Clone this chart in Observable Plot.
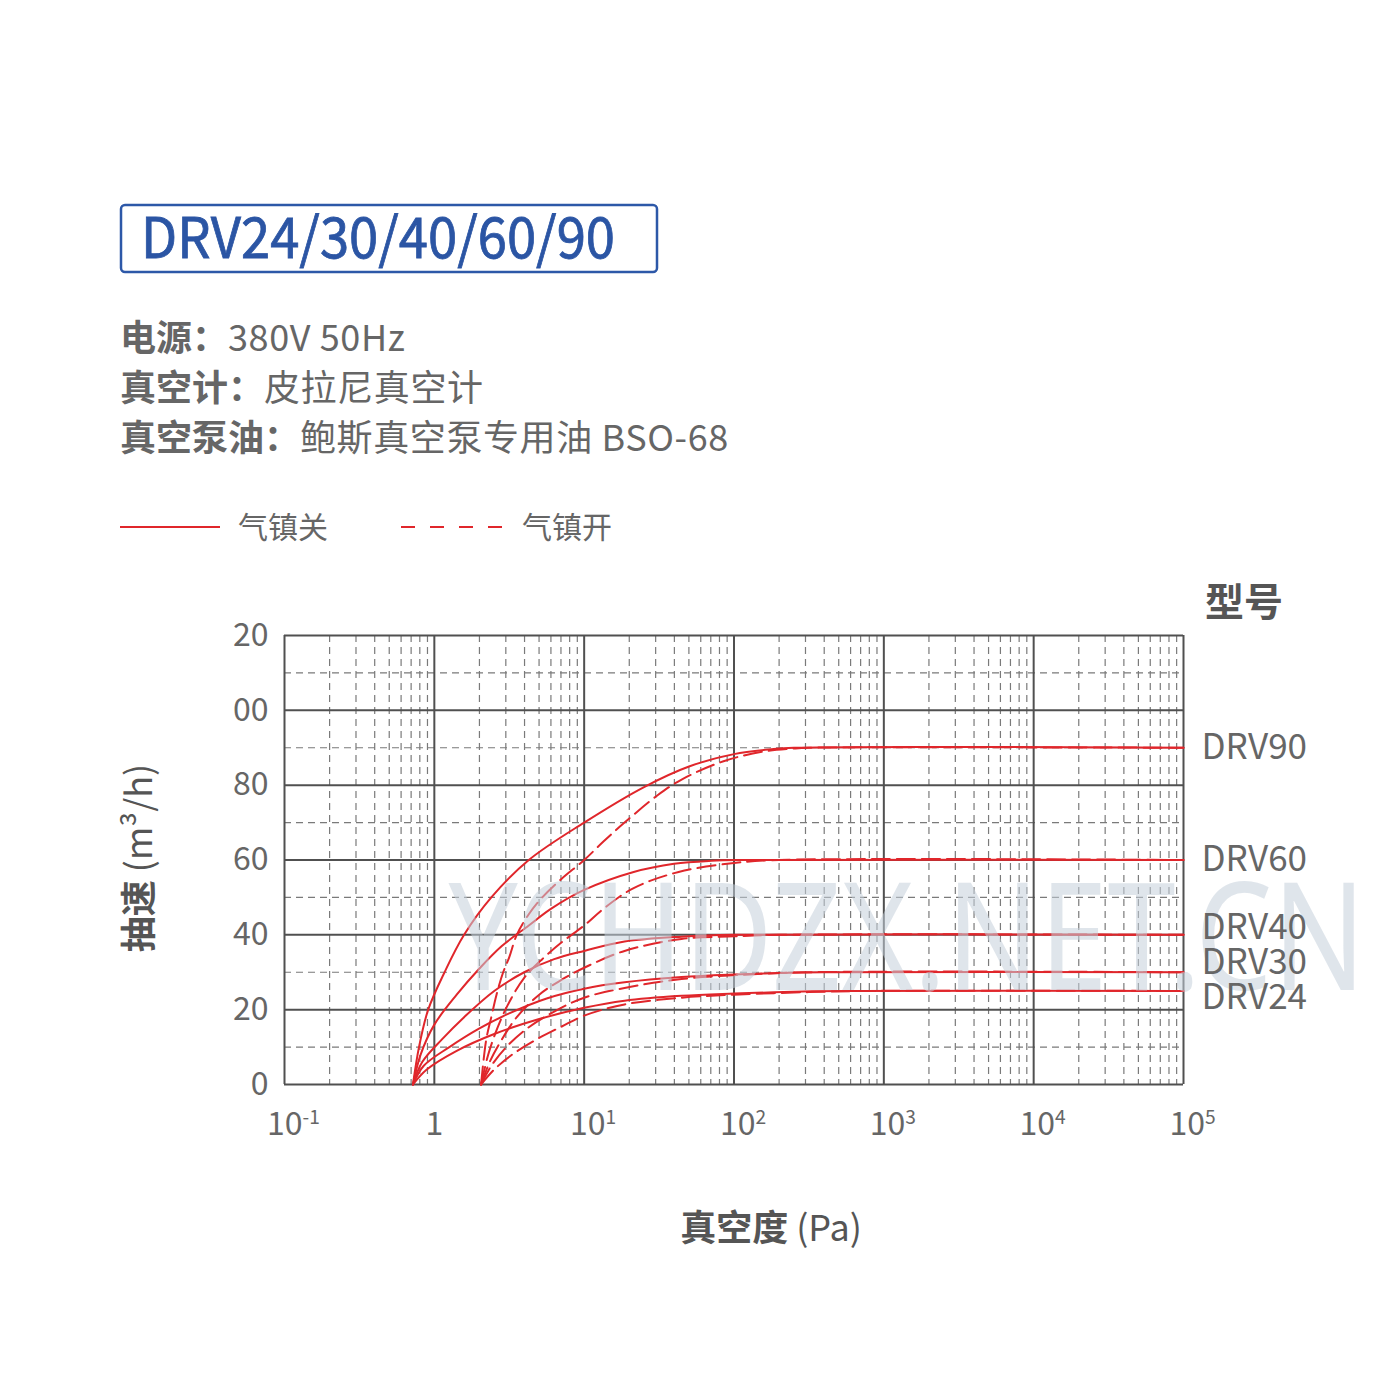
<!DOCTYPE html>
<html><head><meta charset="utf-8">
<script src="https://cdn.jsdelivr.net/npm/d3@7"></script>
<script src="https://cdn.jsdelivr.net/npm/@observablehq/plot@0.6"></script>
<style>
body{margin:0;background:#fff;}
#wrap{position:relative;width:1400px;height:1400px;overflow:hidden;background:#fff;}
#chart{position:absolute;left:0;top:560px;}
#overlay{position:absolute;left:0;top:0;}
</style></head>
<body><div id="wrap"><svg id="overlay" width="1400" height="1400"></svg><div id="chart"></div></div>
<script>
// ---- data (pressure Pa, pumping speed m3/h) ----
const models = ["DRV90", "DRV60", "DRV40", "DRV30", "DRV24"];
// gas ballast closed (solid)
const off90 = [[0.72,0],[0.79,10],[0.91,20],[1.17,30],[1.58,40],[2.4,50],[4.27,60],[10,70],[25.1,79.5],[50.1,85],[100,88.3],[178,89.6],[251,90],[100000,90]];
const off60 = [[0.72,0],[0.81,8],[1,16],[1.41,24],[2,31],[2.82,37],[4.27,42.5],[6.03,47],[10,52],[21.4,56.8],[39.8,59],[70.8,59.8],[112,60],[100000,60]];
const off40 = [[0.72,0],[0.83,6],[1.12,12],[1.58,18],[2.51,25],[3.98,30],[6.31,33.5],[10,35.7],[18.6,38.2],[44.7,39.5],[100,40],[100000,40]];
const off30 = [[0.72,0],[0.85,5],[1.26,10],[2,15],[3.16,19],[5.62,23],[10,25.6],[18.6,27.3],[44.7,28.7],[100,29.4],[200,29.8],[398,30],[100000,30]];
const off24 = [[0.72,0],[0.89,4],[1.41,9],[2.51,13.5],[5.01,17.5],[10,20.5],[18.6,22.4],[44.7,23.7],[100,24.3],[251,24.8],[631,25],[100000,25]];
// gas ballast open (dashed)
const on90 = [[2.05,0],[2.22,12],[2.4,18],[2.6,24],[2.88,30],[3.16,34],[3.55,40],[4.27,45.5],[5.25,50],[7.08,55],[10,60],[13.5,65],[18.6,70],[30.9,77.3],[44.7,81.5],[85.1,86.4],[158,89],[251,89.8],[316,90],[100000,90]];
const on60 = [[2.05,0],[2.29,8],[2.63,15],[3.16,22],[3.98,28.5],[5.25,33.5],[7.08,38],[10,42.5],[13.5,47],[21.4,52.5],[42.7,56.8],[100,59.2],[200,60],[100000,60]];
const on40 = [[2.05,0],[2.34,6],[2.82,12],[3.55,18],[5.01,24],[7.08,28],[10,31.2],[18.6,35.7],[44.7,38.9],[100,39.6],[200,40],[100000,40]];
const on30 = [[2.05,0],[2.4,5],[3.02,10],[4.17,15],[6.31,19.5],[10,23.2],[18.6,25.8],[44.7,28.2],[100,29.2],[316,30],[100000,30]];
const on24 = [[2.05,0],[2.51,4],[3.31,8],[4.79,12],[7.08,15.5],[10,18.4],[18.6,21.4],[44.7,23.2],[100,24],[316,24.7],[794,25],[100000,25]];

const xTicks = [0.1, 1, 10, 100, 1000, 10000, 100000];
const xTickLabels = ["10^-1", "1", "10^1", "10^2", "10^3", "10^4", "10^5"];
const yTicks = [0, 20, 40, 60, 80, 100, 120];
const yTickLabels = ["0", "20", "40", "60", "80", "00", "20"];
const modelLabelY = [90, 60, 42, 32.6, 23.3];

const title = "DRV24/30/40/60/90";
const specLabels = ["电源：", "真空计：", "真空泵油："];
const specValues = ["380V 50Hz", "皮拉尼真空计", "鲍斯真空泵专用油 BSO-68"];
const legendLabels = ["气镇关", "气镇开"];
const xTitle = ["真空度", " (Pa)"];
const yTitle = ["抽速", " (m³/h)"];
const modelHeader = "型号";
const watermark = "YCHDZX.NET.CN";

// ---- build rows ----
const offSeries = [off90, off60, off40, off30, off24];
const onSeries = [on90, on60, on40, on30, on24];
const rowsOff = [], rowsOn = [];
models.forEach((m, i) => {
  offSeries[i].forEach(([p, q]) => rowsOff.push({model: m, p, q}));
  onSeries[i].forEach(([p, q]) => rowsOn.push({model: m, p, q}));
});
const minorX = [];
for (let e = -1; e < 5; e++) for (let k = 2; k <= 9; k++) minorX.push(+(k * Math.pow(10, e)).toPrecision(3));
const minorY = [10, 30, 50, 70, 90, 110];

const RED = "#e0262b";
const FONT = "'Noto Sans CJK SC', 'Noto Sans', sans-serif";
const supTicks = xTicks.filter((d, i) => xTickLabels[i].includes("^"));
const plainTicks = xTicks.filter((d, i) => !xTickLabels[i].includes("^"));
const fmtX = d => xTickLabels[xTicks.indexOf(d)];

const chart = Plot.plot({
  width: 1400, height: 620,
  marginLeft: 284, marginRight: 217, marginTop: 75, marginBottom: 96,
  x: {type: "log", domain: [0.1, 100000], label: null},
  y: {domain: [0, 120], label: null},
  style: {fontFamily: FONT, fontSize: "32px", color: "#666", background: "transparent", overflow: "visible"},
  marks: [
    Plot.ruleX(minorX, {stroke: "#7a7a7a", strokeWidth: 1.2, strokeDasharray: "7,5"}),
    Plot.ruleY(minorY, {stroke: "#7a7a7a", strokeWidth: 1.2, strokeDasharray: "7,5"}),
    Plot.ruleX(xTicks, {stroke: "#505050", strokeWidth: 2}),
    Plot.ruleY(yTicks, {stroke: "#505050", strokeWidth: 2}),
    Plot.line(rowsOff, {x: "p", y: "q", z: "model", curve: "catmull-rom", stroke: RED, strokeWidth: 2}),
    Plot.line(rowsOn, {x: "p", y: "q", z: "model", curve: "catmull-rom", stroke: RED, strokeWidth: 2, strokeDasharray: "18,7"}),
    Plot.text([watermark], {frameAnchor: "left", dx: 164, dy: 82, textAnchor: "start", fontSize: 150, fontFamily: "'Noto Sans', sans-serif", fill: "#c4d0db", fillOpacity: 0.55}),
    Plot.axisX(supTicks, {tickSize: 0, tickPadding: 28, tickFormat: fmtX, fontSize: 32, dx: 9, fill: "#666", label: null}),
    Plot.axisX(plainTicks, {tickSize: 0, tickPadding: 28, tickFormat: fmtX, fontSize: 32, dx: 0, fill: "#666", label: null}),
    Plot.axisY(yTicks, {tickSize: 0, tickPadding: 16, tickFormat: d => yTickLabels[yTicks.indexOf(d)], fontSize: 32, fill: "#666", label: null}),
    Plot.text(models, {x: () => 100000, y: (d, i) => modelLabelY[i], text: d => d, dx: 18, textAnchor: "start", fontSize: 35, fill: "#666"})
  ]
});
document.getElementById("chart").appendChild(chart);

// superscripts for the x tick labels; watermark width
d3.select(chart).selectAll("text").each(function() {
  const s = this.textContent;
  if (s === watermark) {
    this.setAttribute("textLength", 917);
    this.setAttribute("lengthAdjust", "spacingAndGlyphs");
  } else if (s.includes("^") && this.childElementCount === 0) {
    const [base, exp] = s.split("^");
    this.textContent = "";
    const t = d3.select(this);
    t.append("tspan").text(base);
    t.append("tspan").attr("dy", "-0.6em").attr("font-size", "0.6em").text(exp);
  }
});

// ---- overlay texts ----
const ov = d3.select("#overlay").style("font-family", FONT);
ov.append("rect").attr("x", 121).attr("y", 205).attr("width", 536).attr("height", 67).attr("rx", 4)
  .attr("fill", "none").attr("stroke", "#2d58a8").attr("stroke-width", 2.5);
ov.append("text").attr("x", 141).attr("y", 258).attr("font-size", 56).attr("fill", "#2b55a4")
  .attr("stroke", "#2b55a4").attr("stroke-width", 0.8)
  .attr("textLength", 474).attr("lengthAdjust", "spacingAndGlyphs").text(title);

specLabels.forEach((lab, i) => {
  const t = ov.append("text").attr("x", 120).attr("y", 351 + i * 50).attr("font-size", 36).attr("fill", "#666");
  t.append("tspan").attr("font-weight", 700).text(lab);
  t.append("tspan").attr("font-weight", 400).attr("letter-spacing", 0.6).text(specValues[i]);
});

ov.append("line").attr("x1", 120).attr("x2", 220).attr("y1", 527).attr("y2", 527).attr("stroke", RED).attr("stroke-width", 2);
ov.append("text").attr("x", 238).attr("y", 538).attr("font-size", 30).attr("fill", "#666").text(legendLabels[0]);
ov.append("line").attr("x1", 401).attr("x2", 503).attr("y1", 527).attr("y2", 527).attr("stroke", RED).attr("stroke-width", 2).attr("stroke-dasharray", "14,15");
ov.append("text").attr("x", 522).attr("y", 538).attr("font-size", 30).attr("fill", "#666").text(legendLabels[1]);

ov.append("text").attr("x", 1205).attr("y", 616).attr("font-size", 39).attr("font-weight", 700).attr("fill", "#555").text(modelHeader);

const xt = ov.append("text").attr("x", 771).attr("y", 1241).attr("text-anchor", "middle").attr("font-size", 36).attr("fill", "#555");
xt.append("tspan").attr("font-weight", 700).text(xTitle[0]);
xt.append("tspan").attr("font-weight", 400).text(xTitle[1]);

const yt = ov.append("text").attr("transform", "translate(152,858) rotate(-90)").attr("text-anchor", "middle").attr("font-size", 36).attr("fill", "#555");
yt.append("tspan").attr("font-weight", 700).text(yTitle[0]);
yt.append("tspan").attr("font-weight", 400).text(yTitle[1]);
</script>
</body></html>
